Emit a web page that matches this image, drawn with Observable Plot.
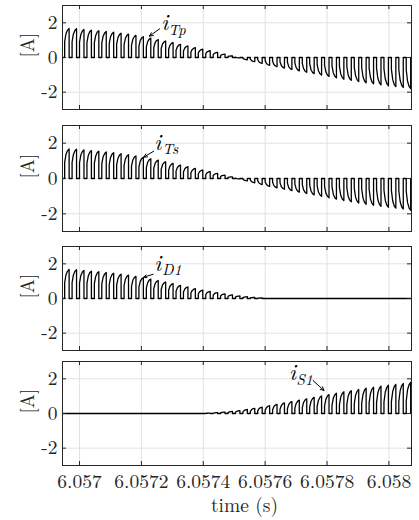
<!DOCTYPE html>
<html>
<head>
<meta charset="utf-8">
<script src="https://cdn.jsdelivr.net/npm/d3@7"></script>
<script src="https://cdn.jsdelivr.net/npm/@observablehq/plot@0.6"></script>
<style>
  body { margin: 0; background: #fff; }
  #wrap { position: relative; width: 419px; height: 520px; overflow: hidden; background: #fff; }
  #wrap svg { position: absolute; left: 0; }
</style>
</head>
<body>
<div id="wrap"></div>
<script>
// ---------- data ----------
const xDomain = [6.056945, 6.058073];
const xTicks = [6.057, 6.0572, 6.0574, 6.0576, 6.0578, 6.058];
const xTickLabels = ["6.057", "6.0572", "6.0574", "6.0576", "6.0578", "6.058"];
const yDomain = [-3, 3];
const yTicks = [-2, 0, 2];
const yTickLabels = ["-2", "0", "2"];
const xLabel = "time (s)";
const yLabel = "[A]";

// switching cycles
const cycleStart = 6.056952;   // first rising edge (s)
const period = 0.000024;       // switching period (s)
const duty = 0.6;              // conducting fraction of a period
// pulse shape (fraction of pulse width, fraction of peak) after the vertical edge
const shapeT = [0.3, 0.65, 1.0];
const shapeV = [0.6, 0.88, 1.0];
const kneeD1 = 0.55;           // vertical-edge height as fraction of peak, iD1
const kneeS1 = 0.4;            // vertical-edge height as fraction of peak, iS1

// per-cycle peak currents (A)
const iD1Peak = [1.67, 1.66, 1.62, 1.58, 1.55, 1.50, 1.46, 1.40, 1.35, 1.28,
                 1.20, 1.12, 1.04, 0.95, 0.86, 0.76, 0.67, 0.57, 0.48, 0.41,
                 0.34, 0.27, 0.21, 0.15, 0.10, 0.06, 0.03, 0, 0, 0,
                 0, 0, 0, 0, 0, 0, 0, 0, 0, 0,
                 0, 0, 0, 0, 0, 0, 0];
const iS1Peak = [0, 0, 0, 0, 0, 0, 0, 0, 0, 0,
                 0, 0, 0, 0, 0, 0, 0, 0, 0, 0.02,
                 0.05, 0.08, 0.12, 0.17, 0.23, 0.30, 0.37, 0.45, 0.53, 0.61,
                 0.69, 0.77, 0.85, 0.93, 1.01, 1.09, 1.17, 1.25, 1.32, 1.39,
                 1.46, 1.52, 1.58, 1.63, 1.68, 1.73, 1.80];

// annotations
const annSub = ["Tp", "Ts", "D1", "S1"];
const annIT = [6.0572645, 6.0572419, 6.0572419, 6.0576774];
const annIV = [1.60, 1.585, 1.575, 1.96];
const annST = [6.0572871, 6.0572677, 6.0572677, 6.0577016];
const annSV = [1.30, 1.36, 1.36, 1.62];
const arrowT1 = [6.0572590, 6.0572397, 6.0572380, 6.0577548];
const arrowV1 = [1.656, 1.545, 1.40, 1.90];
const arrowT2 = [6.0572258, 6.0572074, 6.0572074, 6.0577903];
const arrowV2 = [1.229, 1.205, 1.229, 1.327];

// ---------- build series ----------
function train(wD, wS) {
  const pts = [{t: xDomain[0], v: 0}];
  for (let k = 0; k < iD1Peak.length; k++) {
    const t0 = cycleStart + k * period;
    const w = duty * period;
    const d = iD1Peak[k] * wD, s = iS1Peak[k] * wS;
    pts.push({t: t0, v: 0});
    pts.push({t: t0, v: d * kneeD1 - s * kneeS1});
    for (let j = 0; j < shapeT.length; j++) {
      const fd = kneeD1 + (1 - kneeD1) * shapeV[j];
      const fs = kneeS1 + (1 - kneeS1) * shapeV[j];
      pts.push({t: t0 + shapeT[j] * w, v: d * fd - s * fs});
    }
    pts.push({t: t0 + w, v: 0});
  }
  pts.push({t: xDomain[1], v: 0});
  return pts;
}
const series = [train(1, 1), train(1, 1), train(1, 0), train(0, -1)];

// ---------- layout ----------
const W = 419;
const panels = [
  {top: 0,   mt: 5, inner: 104, mb: 2},
  {top: 120, mt: 5, inner: 106, mb: 2},
  {top: 241, mt: 5, inner: 104, mb: 2},
  {top: 356, mt: 5, inner: 104, mb: 55}
];
const ML = 62, MR = 8;
const font = "Latin Modern Roman";
const FS = 19.5;
const wrap = document.getElementById("wrap");

panels.forEach((p, i) => {
  const innerW = W - ML - MR;
  const last = i === panels.length - 1;
  const marks = [
    Plot.gridX(xTicks, {stroke: "#e2e2e2", strokeOpacity: 1, strokeWidth: 1}),
    Plot.gridY(yTicks, {stroke: "#e2e2e2", strokeOpacity: 1, strokeWidth: 1}),
    Plot.line(series[i], {x: "t", y: "v", stroke: "#000", strokeWidth: 1.3, clip: true}),
    Plot.frame({stroke: "#262626", strokeWidth: 1}),
    Plot.ruleX(xTicks, {stroke: "#262626", insetBottom: p.inner - 4}),
    Plot.ruleX(xTicks, {stroke: "#262626", insetTop: p.inner - 4}),
    Plot.ruleY(yTicks, {stroke: "#262626", insetRight: innerW - 4}),
    Plot.ruleY(yTicks, {stroke: "#262626", insetLeft: innerW - 4}),
    Plot.axisY({ticks: yTicks, tickSize: 0, tickPadding: 5, label: null,
                tickFormat: d => yTickLabels[yTicks.indexOf(d)], fill: "#262626",
                fontFamily: font, fontSize: FS}),
    Plot.text([yLabel], {frameAnchor: "left", text: d => d, rotate: -90, dx: -35,
                         fontSize: 19, fontFamily: font, fill: "#262626"}),
    Plot.text([{t: annIT[i], v: annIV[i]}], {x: "t", y: "v", text: () => "i",
      textAnchor: "start", lineAnchor: "bottom", fontSize: 23, fontStyle: "italic",
      fontFamily: font, fill: "#000"}),
    Plot.text([{t: annST[i], v: annSV[i]}], {x: "t", y: "v", text: () => annSub[i],
      textAnchor: "start", lineAnchor: "bottom", fontSize: 15, fontStyle: "italic",
      fontFamily: font, fill: "#000"}),
    Plot.arrow([{x1: arrowT1[i], y1: arrowV1[i], x2: arrowT2[i], y2: arrowV2[i]}],
      {x1: "x1", y1: "y1", x2: "x2", y2: "y2", stroke: "#000", strokeWidth: 1,
       headLength: 6, headAngle: 50})
  ];
  if (last) {
    marks.push(Plot.axisX({ticks: xTicks, tickSize: 0, tickPadding: 9, label: null,
      tickFormat: d => xTickLabels[xTicks.indexOf(d)], fill: "#262626",
      fontFamily: font, fontSize: FS}));
    marks.push(Plot.text([xLabel], {frameAnchor: "bottom", lineAnchor: "bottom", text: d => d,
      dy: 46, dx: 7.5, fontSize: FS, fontFamily: font, fill: "#262626"}));
  }
  const svg = Plot.plot({
    width: W,
    height: p.mt + p.inner + p.mb,
    marginLeft: ML, marginRight: MR, marginTop: p.mt, marginBottom: p.mb,
    x: last ? {domain: xDomain} : {domain: xDomain, axis: null},
    y: {domain: yDomain},
    style: {fontFamily: font, fontSize: FS + "px", background: "transparent", overflow: "visible"},
    marks
  });
  svg.style.top = p.top + "px";
  svg.setAttribute("font-family", font);
  d3.select(svg).selectAll("text, g").attr("font-family", font).style("font-family", font);
  wrap.appendChild(svg);
});
</script>
</body>
</html>
